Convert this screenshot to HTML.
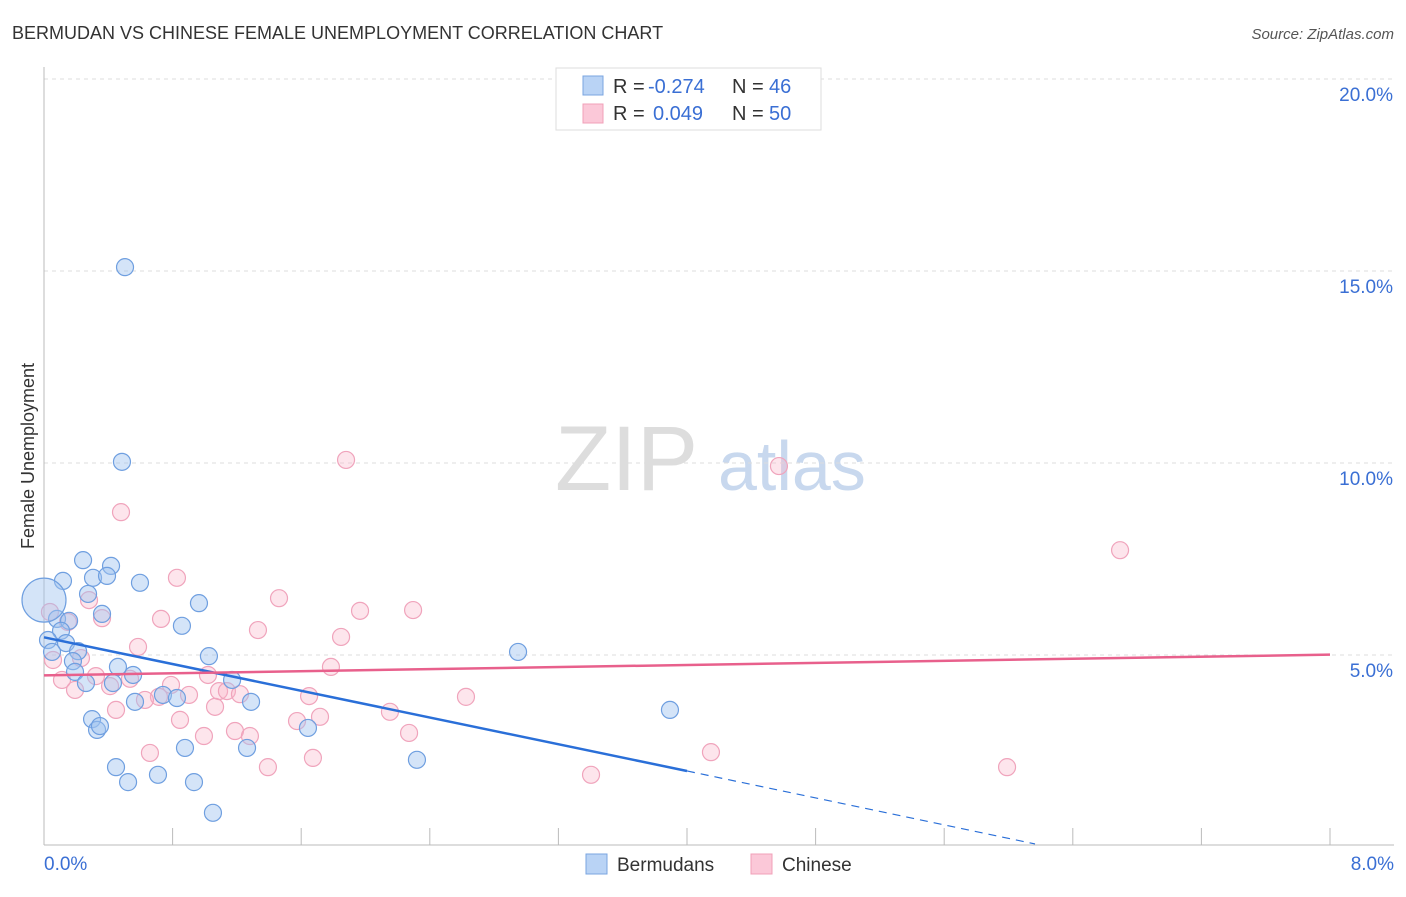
<!DOCTYPE html>
<html><head><meta charset="utf-8"><style>
body{margin:0;background:#fff;font-family:"Liberation Sans",sans-serif;}
svg text{font-family:"Liberation Sans",sans-serif;}
</style></head><body>
<svg id="chart" width="1406" height="892" xmlns="http://www.w3.org/2000/svg">
<text x="12" y="39" font-size="18" fill="#333">BERMUDAN VS CHINESE FEMALE UNEMPLOYMENT CORRELATION CHART</text>
<text x="1394" y="39" font-size="15" fill="#555" font-style="italic" text-anchor="end">Source: ZipAtlas.com</text>
<text transform="translate(34,456) rotate(-90)" font-size="18" fill="#333" text-anchor="middle">Female Unemployment</text>
<g>
<text x="555" y="490" font-size="92" font-family="Liberation Serif,serif" fill="#ddd">ZIP</text>
<text x="718" y="490" font-size="70" fill="#c8d8ee">atlas</text>
</g>
<g id="grid"></g>
<g id="axes"></g>
<g id="pts"></g>
<g id="lines"></g>
<g>
<rect x="556" y="68" width="265" height="62" fill="#fff" stroke="#ddd"/>
<rect x="583" y="76" width="20" height="19" fill="#b9d3f5" stroke="#7aa5e0"/>
<rect x="583" y="104" width="20" height="19" fill="#fbc8d8" stroke="#f0a0b8"/>
<text x="613" y="93" font-size="20" fill="#333">R =</text>
<text x="648" y="93" font-size="20" fill="#3a6fd4">-0.274</text>
<text x="732" y="93" font-size="20" fill="#333">N =</text>
<text x="769" y="93" font-size="20" fill="#3a6fd4">46</text>
<text x="613" y="120" font-size="20" fill="#333">R =</text>
<text x="653" y="120" font-size="20" fill="#3a6fd4">0.049</text>
<text x="732" y="120" font-size="20" fill="#333">N =</text>
<text x="769" y="120" font-size="20" fill="#3a6fd4">50</text>
</g>
<g>
<rect x="586" y="854" width="21" height="20" fill="#b9d3f5" stroke="#7aa5e0"/>
<text x="617" y="871" font-size="19" fill="#333">Bermudans</text>
<rect x="751" y="854" width="21" height="20" fill="#fbc8d8" stroke="#f0a0b8"/>
<text x="782" y="871" font-size="19" fill="#333">Chinese</text>
</g>
</svg>
<script>
const yTicks=[5,10,15,20];
const yTickLabels=["5.0%","10.0%","15.0%","20.0%"];
const xTickLabels=["0.0%","8.0%"];
const blueX=[0.504,0.485,0.243,0.118,0.417,0.305,0.392,0.597,0.274,0.361,0.964,0.081,0.156,0.858,0.106,0.137,0.212,0.025,0.050,1.026,0.180,0.193,0.460,0.554,1.170,0.261,0.429,0.740,0.827,0.566,1.288,0.299,0.330,0.348,1.642,0.877,1.263,0.448,0.709,0.523,0.933,1.051,2.320,2.949,3.894];
const blueY=[15.10,10.03,7.47,6.93,7.32,7.01,7.06,6.88,6.59,6.07,6.35,5.94,5.89,5.76,5.63,5.31,5.10,5.39,5.08,4.97,4.84,4.56,4.69,4.48,4.35,4.27,4.27,3.96,3.88,3.78,3.78,3.33,3.05,3.15,3.10,2.58,2.58,2.08,1.88,1.69,1.69,0.89,2.27,5.08,3.57];
const bigX=[0],bigY=[6.43];
const pinkX=[1.879,4.572,0.479,6.694,0.827,1.462,0.280,1.966,2.296,0.728,0.361,0.149,1.331,1.848,0.585,0.230,0.056,1.785,0.323,1.020,0.535,0.112,0.411,0.790,1.089,1.138,1.219,0.902,0.715,1.649,0.628,2.625,0.193,1.064,0.448,2.152,1.717,0.846,1.574,1.188,1.281,0.995,2.271,0.659,1.673,1.393,4.149,3.403,5.991,0.037];
const pinkY=[10.08,9.92,8.72,7.73,7.01,6.48,6.43,6.15,6.17,5.94,5.96,5.86,5.65,5.47,5.21,4.92,4.87,4.69,4.45,4.48,4.38,4.35,4.19,4.22,4.06,4.06,3.98,3.96,3.91,3.93,3.83,3.91,4.09,3.65,3.57,3.52,3.39,3.31,3.28,3.02,2.89,2.89,2.97,2.45,2.32,2.08,2.47,1.88,2.08,6.12];
const blueTrend=[[0,5.46],[4.0,1.98],[6.165,0.08]];
const pinkTrend=[[0,4.47],[8,5.01]];
const NS="http://www.w3.org/2000/svg";
const sx=v=>44+v*160.75, sy=v=>847-v*38.4;
function mk(tag,attrs,parent){const e=document.createElementNS(NS,tag);for(const k in attrs)e.setAttribute(k,attrs[k]);parent.appendChild(e);return e;}
const gridG=document.getElementById('grid'),axesG=document.getElementById('axes'),ptsG=document.getElementById('pts'),linesG=document.getElementById('lines');
yTicks.forEach((t,i)=>{
 const l=mk('line',{x1:44,x2:1394,y1:sy(t),y2:sy(t),stroke:'#ddd','stroke-dasharray':'4,4'},gridG);
 
 
 const tx=mk('text',{x:1393,y:sy(t)+22,'font-size':19,fill:'#3a6fd4','text-anchor':'end'},axesG);
 tx.textContent=yTickLabels[i];
 
 
});
const topLine=mk('line',{x1:44,x2:1394,y1:79,y2:79,stroke:'#ddd','stroke-dasharray':'4,4'},gridG);


const ya=mk('line',{x1:44,x2:44,y1:67,y2:845,stroke:'#bbb'},axesG);


const xa=mk('line',{x1:44,x2:1394,y1:845,y2:845,stroke:'#bbb'},axesG);


for(let i=0;i<=10;i++){const x=sx(i*0.8);
 const t=mk('line',{x1:x,x2:x,y1:828,y2:845,stroke:'#bbb'},axesG);
 
 }
[[0,'start',44],[8,'end',1394]].forEach((d,i)=>{
 const tx=mk('text',{x:d[2],y:870,'font-size':19,fill:'#3a6fd4','text-anchor':d[1]},axesG);
 tx.textContent=xTickLabels[i];
 
 
});
function dots(X,Y,r,fill,stroke,name){X.forEach((x,i)=>{
 const c=mk('circle',{cx:sx(x),cy:sy(Y[i]),r:r,fill:fill,stroke:stroke,'stroke-width':1.2},ptsG);
 
 });}
dots(pinkX,pinkY,8.5,'rgba(248,180,200,0.35)','#f0a4bc','chinese-point');
dots(blueX,blueY,8.5,'rgba(160,196,240,0.45)','#6f9fe0','bermudan-point');
dots(bigX,bigY,22,'rgba(160,196,240,0.45)','#6f9fe0','bermudan-point-large');
const b1=mk('line',{x1:sx(blueTrend[0][0]),y1:sy(blueTrend[0][1]),x2:sx(blueTrend[1][0]),y2:sy(blueTrend[1][1]),stroke:'#2a6fd8','stroke-width':2.5},linesG);


const b2=mk('line',{x1:sx(blueTrend[1][0]),y1:sy(blueTrend[1][1]),x2:sx(blueTrend[2][0]),y2:sy(blueTrend[2][1]),stroke:'#2a6fd8','stroke-width':1.2,'stroke-dasharray':'8,6'},linesG);


const p1=mk('line',{x1:sx(pinkTrend[0][0]),y1:sy(pinkTrend[0][1]),x2:sx(pinkTrend[1][0]),y2:sy(pinkTrend[1][1]),stroke:'#e8608c','stroke-width':2.5},linesG);


</script>
</body></html>
